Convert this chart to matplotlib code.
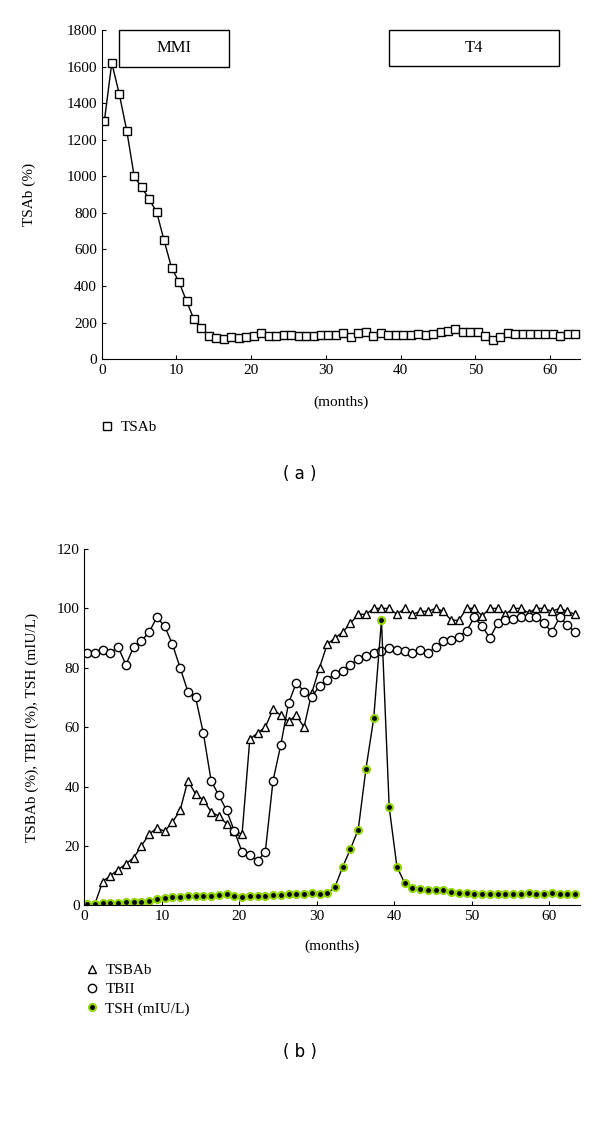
import numpy as np
import matplotlib
matplotlib.use("Agg")
from matplotlib import pyplot as plt
from matplotlib.patches import Rectangle
from matplotlib.lines import Line2D

plt.rcParams['font.family'] = ['Liberation Serif', 'DejaVu Serif']

# months since start (one sample per month)
months = np.arange(64) + 0.35

tsab = [1300, 1620, 1450, 1250, 1000, 940, 875, 805, 650, 500, 422, 318, 218, 169, 129,
        118, 109, 124, 118, 124, 127, 144, 125, 129, 131,
        130, 128, 126, 128, 130, 132, 133,
        145, 124, 145, 150, 125, 145, 133, 130, 130, 130, 140, 135, 140, 148, 156, 168,
        147, 147, 150, 127, 105, 124, 142, 136, 136, 136, 136, 138, 138, 127, 136, 138]

tsbab = [0.5, 0.5, 8, 10, 12, 14, 16, 20, 24, 26, 25, 28, 32, 42, 37.5, 35.5, 31.5, 30,
         27.5, 25, 24, 56, 58, 60, 66, 64, 62, 64, 60, 71.5, 80, 88, 90, 92, 95, 98, 98,
         100, 100, 100, 98, 100, 98, 99, 99, 100, 99, 96, 96, 100, 100, 97.5, 100, 100,
         98, 100, 100, 98.5, 100, 100, 99, 100, 99, 98]

tbii = [85, 85, 86, 85, 87, 81, 87, 89, 92, 97, 94, 88, 80, 72, 70, 58, 42, 37, 32, 25,
        18, 17, 15, 18, 42, 54, 68, 75, 72, 70, 74, 76, 78, 79, 81, 83, 84, 85, 85.5,
        86.5, 86, 85.5, 85, 86, 85, 87, 89, 89.5, 90.5, 92.5, 97, 94, 90, 95, 96, 96.5,
        97, 97, 97, 95, 92, 97, 94.5, 92]

tsh = [0.5, 0.5, 0.7, 0.8, 0.9, 1.0, 1.1, 1.2, 1.5, 2.3, 2.5, 2.7, 2.8, 3.0, 3.0, 3.1,
       3.3, 3.5, 3.7, 3.3, 2.9, 3.0, 3.1, 3.3, 3.5, 3.6, 3.7, 3.8, 3.9, 4.0, 3.9, 4.0,
       6.2, 13, 19, 25.5, 46, 63, 96, 33, 13, 7.5, 6, 5.5, 5.3, 5.2, 5.0, 4.6, 4.2, 4.0,
       3.9, 3.8, 3.8, 3.9, 3.8, 3.8, 3.9, 4.0, 3.8, 3.9, 4.0, 3.9, 3.8, 3.9]

fig = plt.figure(figsize=(6, 11.22), dpi=100)

# ---- (a) ----
ax1 = fig.add_axes([0.1695, 0.6798, 0.797, 0.2935])
ax1.plot(months, tsab, 'k-', lw=1, marker='s', ms=6, mfc='white', mec='black', mew=1)
ax1.set_xlim(0, 64)
ax1.set_ylim(0, 1800)
ax1.set_yticks(np.arange(0, 1801, 200))
ax1.set_xticks(np.arange(0, 61, 10))
ax1.spines['top'].set_visible(False)
ax1.spines['right'].set_visible(False)
ax1.tick_params(direction='in', length=3, labelsize=11)
ax1.set_ylabel('TSAb (%)', fontsize=11)
ax1.yaxis.set_label_coords(-0.137, 0.5)
ax1.set_xlabel('(months)', fontsize=11)
ax1.xaxis.set_label_coords(0.5, -0.111)

ax1.add_patch(Rectangle((2.3, 1600), 14.7, 200, fill=False, ec='black', lw=1, clip_on=False))
ax1.text(9.65, 1700, 'MMI', ha='center', va='center', fontsize=12)
ax1.add_patch(Rectangle((38.4, 1605), 22.8, 195, fill=False, ec='black', lw=1, clip_on=False))
ax1.text(49.8, 1702, 'T4', ha='center', va='center', fontsize=12)

h1 = [Line2D([], [], ls='none', marker='s', ms=6, mfc='white', mec='black')]
fig.legend(h1, ['TSAb'], loc='center left', bbox_to_anchor=(0.143, 1 - 427 / 1122),
           frameon=False, fontsize=11, handletextpad=0.4, handlelength=1)
fig.text(0.5, 1 - 474 / 1122, '( a )', ha='center', va='center', fontsize=12,
         family='DejaVu Sans')

# ---- (b) ----
ax2 = fig.add_axes([0.1408, 0.1931, 0.826, 0.3176])
ax2.plot(months, tsbab, 'k-', lw=1, marker='^', ms=6, mfc='white', mec='black', mew=1)
ax2.plot(months, tbii, 'k-', lw=1, marker='o', ms=6, mfc='white', mec='black', mew=1)
ax2.plot(months, tsh, 'k-', lw=1, marker='o', ms=5, mfc='black', mec='#8fd400', mew=1.5)
ax2.set_xlim(0, 64)
ax2.set_ylim(0, 120)
ax2.set_yticks(np.arange(0, 121, 20))
ax2.set_xticks(np.arange(0, 61, 10))
ax2.spines['top'].set_visible(False)
ax2.spines['right'].set_visible(False)
ax2.tick_params(direction='in', length=3, labelsize=11)
ax2.set_ylabel('TSBAb (%), TBII (%), TSH (mIU/L)', fontsize=11)
ax2.yaxis.set_label_coords(-0.092, 0.5)
ax2.set_xlabel('(months)', fontsize=11)
ax2.xaxis.set_label_coords(0.5, -0.097)

h2 = [Line2D([], [], ls='none', marker='^', ms=6, mfc='white', mec='black'),
      Line2D([], [], ls='none', marker='o', ms=6, mfc='white', mec='black'),
      Line2D([], [], ls='none', marker='o', ms=5, mfc='black', mec='#8fd400', mew=1.5)]
fig.legend(h2, ['TSBAb', 'TBII', 'TSH (mIU/L)'], loc='upper left',
           bbox_to_anchor=(0.117, 1 - 950 / 1122), frameon=False, fontsize=11,
           handletextpad=0.4, handlelength=1, labelspacing=0.35)
fig.text(0.5, 1 - 1052 / 1122, '( b )', ha='center', va='center', fontsize=12,
         family='DejaVu Sans')

fig.savefig('out.png', dpi=100)
